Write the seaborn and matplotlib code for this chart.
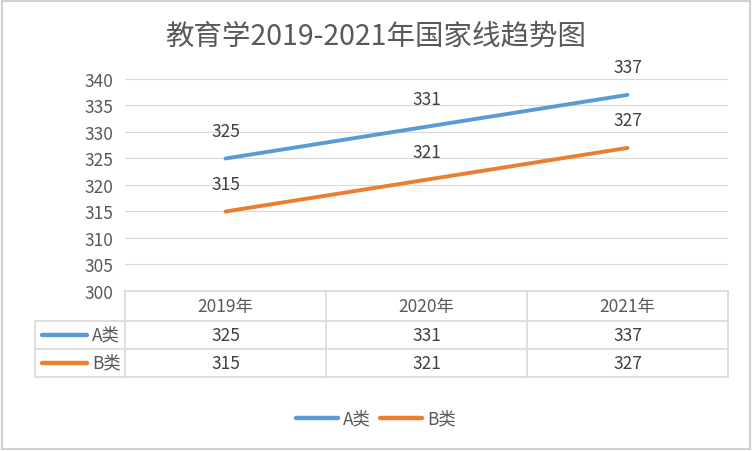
import matplotlib
matplotlib.use("Agg")
import matplotlib.pyplot as plt
import seaborn as sns
import pandas as pd
from matplotlib.patches import Rectangle

# data
years = ["2019年", "2020年", "2021年"]
series_names = ["A类", "B类"]
scores_a = [325, 331, 337]
scores_b = [315, 321, 327]
colors = ["#5B9BD5", "#ED7D31"]
title = "教育学2019-2021年国家线趋势图"

sns.set_theme(style="white")
plt.rcParams["font.family"] = ["Noto Sans CJK SC", "DejaVu Sans"]
text_color = "#595959"
grid_color = "#D9D9D9"
fs = 12.5

# long table for seaborn
df = pd.DataFrame({
    "year": years * 2,
    "x": list(range(len(years))) * 2,
    "score": scores_a + scores_b,
    "series": [series_names[0]] * 3 + [series_names[1]] * 3,
})

W, H = 752, 452
fig = plt.figure(figsize=(W / 100, H / 100), dpi=100)
fig.patch.set_facecolor("white")
# thin grey frame round the whole chart
fig.patches.append(Rectangle((0.003, 0.004), 0.994, 0.992, transform=fig.transFigure,
                             fill=False, edgecolor="#D0D0D0", linewidth=1.5))

def px(l, t, r, b):
    return [l / W, 1 - b / H, (r - l) / W, (b - t) / H]

ax = fig.add_axes(px(125, 80, 728, 292))
sns.lineplot(data=df, x="x", y="score", hue="series", palette=colors,
             linewidth=2.8, ax=ax, legend=False)
for line in ax.lines:
    line.set_solid_capstyle("round")
ax.set_xlim(-0.5, 2.5)
ax.set_ylim(300, 340)
ax.set_yticks(range(300, 341, 5))
ax.set_xticks([])
ax.yaxis.grid(True, color=grid_color, linewidth=0.8)
ax.set_axisbelow(True)
for s in ax.spines.values():
    s.set_visible(False)
ax.tick_params(axis="y", length=0, pad=8.5, labelsize=fs, labelcolor=text_color)
ax.set_xlabel("")
ax.set_ylabel("")

for vals in (scores_a, scores_b):
    for i, v in enumerate(vals):
        ax.annotate(str(v), (i, v), xytext=(0, 20), textcoords="offset points",
                    ha="center", va="center", fontsize=fs, color="#404040")

fig.text(0.5, 1 - 37 / H, title, ha="center", va="center", fontsize=20.5, color=text_color)

# data table under the plot
unit = 201.0
tx = fig.add_axes(px(35, 292, 728, 378))
tx.set_xlim(-0.5 - 90 / unit, 2.5)
tx.set_ylim(86, 0)
tx.axis("off")
lw = 1.2
left = -0.5 - 90 / unit
rows_y = [0, 30, 58, 86]
tx.plot([-0.5, 2.5], [0, 0], color=grid_color, lw=lw, clip_on=False)
for y in rows_y[1:]:
    tx.plot([left, 2.5], [y, y], color=grid_color, lw=lw, clip_on=False)
for xv in [-0.5, 0.5, 1.5, 2.5]:
    tx.plot([xv, xv], [0, 86], color=grid_color, lw=lw, clip_on=False)
tx.plot([left, left], [30, 86], color=grid_color, lw=lw, clip_on=False)

for i, y in enumerate(years):
    tx.text(i, 15, y, ha="center", va="center", fontsize=fs, color=text_color)
for r, (name, vals, c) in enumerate(zip(series_names, [scores_a, scores_b], colors)):
    yc = (rows_y[r + 1] + rows_y[r + 2]) / 2
    tx.plot([left + 7 / unit, left + 52 / unit], [yc, yc], color=c, lw=3.2,
            solid_capstyle="round")
    tx.text(left + 57 / unit, yc, name, ha="left", va="center", fontsize=fs, color=text_color)
    for i, v in enumerate(vals):
        tx.text(i, yc, str(v), ha="center", va="center", fontsize=fs, color="#404040")

# legend at the bottom
handles = [plt.Line2D([], [], color=c, lw=3.2, solid_capstyle="round") for c in colors]
leg = fig.legend(handles, series_names, loc="center", bbox_to_anchor=(376 / W, 1 - 420 / H),
                 ncol=2, frameon=False, fontsize=fs, handlelength=2.4,
                 columnspacing=0.5, handletextpad=0.3)
for t in leg.get_texts():
    t.set_color(text_color)

fig.savefig("out.png", dpi=100, facecolor="white")
